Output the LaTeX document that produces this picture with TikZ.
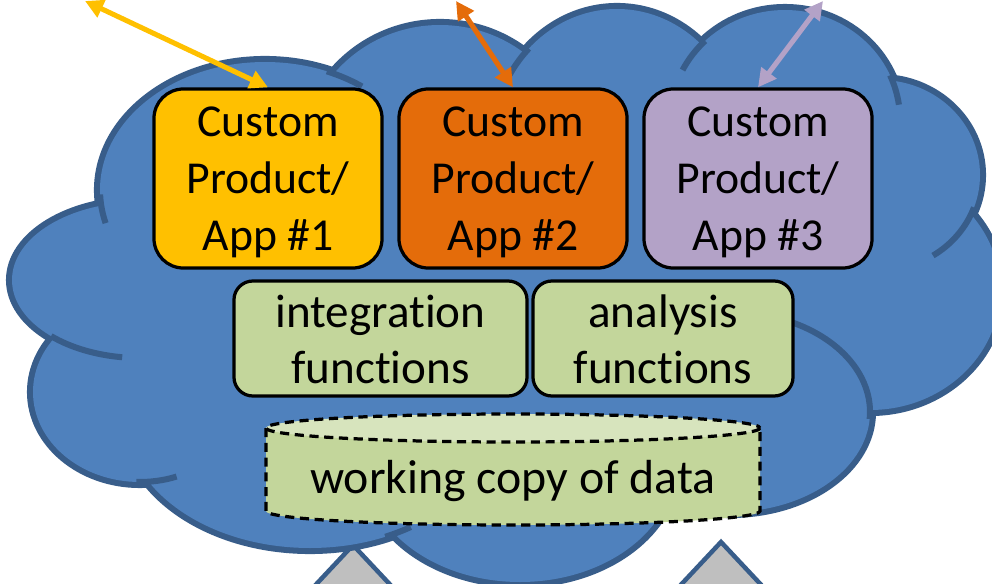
\documentclass[tikz,border=0pt]{standalone}
\usepackage{fontspec}
\setmainfont{Carlito}[Ligatures=NoCommon]
\usetikzlibrary{arrows.meta}
\definecolor{cloudfill}{HTML}{4F81BD}
\definecolor{cloudline}{HTML}{385D8A}
\definecolor{appyellow}{HTML}{FFC000}
\definecolor{apporange}{HTML}{E46C0A}
\definecolor{applilac}{HTML}{B3A2C7}
\definecolor{fngreen}{HTML}{C3D69B}
\definecolor{cyltop}{HTML}{D7E4BD}
\definecolor{basegray}{HTML}{BFBFBF}
\newcommand\lobearc[6]{\draw[lobeedge] ([shift={(#5:#3 and #4)}]#1,#2) arc[start angle=#5,end angle=#6,x radius=#3,y radius=#4];}
\begin{document}
\begin{tikzpicture}[x=0.025cm,y=-0.025cm,
  boxfont/.style={font=\fontsize{32.5}{40.5}\selectfont},
  appbox/.style={draw=black,line width=2.3pt,rounded corners=21pt,
    minimum width=5.7cm,minimum height=4.475cm,align=center,inner sep=0pt,boxfont},
  fnbox/.style={draw=black,line width=2.3pt,rounded corners=13.5pt,fill=fngreen,
    minimum height=2.875cm,align=center,inner sep=0pt,font=\fontsize{33.5}{40}\selectfont},
  lobeedge/.style={draw=cloudline,line width=4.3pt},
  cyledge/.style={draw=black,line width=2.3pt,dash pattern=on 6.5pt off 4pt},
  basetri/.style={fill=basegray,draw=cloudline,line width=3.2pt,line join=miter},
  link/.style={line width=3.6pt,arrows={Triangle[length=13pt,width=13pt]-Triangle[length=13pt,width=13pt]}}]
\useasboundingbox (0,0) rectangle (992,584);
\clip (0,0) rectangle (992,584);

% supports below the cloud
\path[basetri] (353,545) -- (278,625) -- (428,625) -- cycle;
\path[basetri] (721,542) -- (646,622) -- (796,622) -- cycle;

% cloud: outline pass (double width), then fill pass
\foreach \cx/\cy/\rx/\ry in {265/190/165/128, 440/160/138/135, 617/150/127/141,
  785/120/115/110, 880/175/100/95, 870/290/130/120, 730/412/140/100,
  520/465/155/117, 310/418/185/130, 140/392/107/90, 140/280/128/78}
  \path[draw=cloudline,line width=8.6pt] (\cx,\cy) ellipse [x radius=\rx, y radius=\ry];
\foreach \cx/\cy/\rx/\ry in {265/190/165/128, 440/160/138/135, 617/150/127/141,
  785/120/115/110, 880/175/100/95, 870/290/130/120, 730/412/140/100,
  520/465/155/117, 310/418/185/130, 140/392/107/90, 140/280/128/78}
  \path[fill=cloudfill] (\cx,\cy) ellipse [x radius=\rx, y radius=\ry];
\path[fill=cloudfill] (131,212) -- (345,91) -- (525,70) -- (688,63) -- (866,97)
  -- (939,220) -- (845,402) -- (654,486) -- (401,517) -- (171,468) -- (87,335) -- cycle;

% short inner arcs between the puffs
\lobearc{265}{190}{165}{128}{178}{165}
\lobearc{265}{190}{165}{128}{292}{306}
\lobearc{140}{280}{128}{78}{134}{98}
\lobearc{140}{392}{107}{90}{92}{70}
\lobearc{310}{418}{185}{130}{66}{57}
\lobearc{730}{412}{140}{100}{4}{-70}
\lobearc{880}{175}{100}{95}{20}{58}
\lobearc{785}{120}{115}{110}{-24}{-8}
\lobearc{785}{120}{115}{110}{226}{207}
\lobearc{617}{150}{127}{141}{226}{212}

% application boxes
\node[appbox,fill=appyellow] (app1) at (268,178.5) {\rule{0pt}{27pt}Custom\\Product/\\App \#1};
\node[appbox,fill=apporange] (app2) at (513,178.5) {\rule{0pt}{27pt}Custom\\Product/\\App \#2};
\node[appbox,fill=applilac] (app3) at (758,178.5) {\rule{0pt}{27pt}Custom\\Product/\\App \#3};

% function boxes
\node[fnbox,minimum width=7.325cm] (integ) at (380.5,338.5) {\rule{0pt}{24pt}integration\\functions};
\node[fnbox,minimum width=6.5cm] (anal) at (663,338.5) {\rule{0pt}{24pt}analysis\\functions};

% data store
\path[fill=fngreen] (266,428) -- (266,511) arc[start angle=180,end angle=0,x radius=247,y radius=14] -- (760,428) -- cycle;
\draw[cyledge] (266,428) -- (266,511) arc[start angle=180,end angle=0,x radius=247,y radius=14] -- (760,428);
\draw[cyledge,fill=cyltop] (513,428) ellipse [x radius=247, y radius=14];
\node[font=\fontsize{34}{40}\selectfont] (data) at (513,481) {working copy of data};

% links leaving the cloud
\coordinate (out1) at (85,1);
\coordinate (out2) at (456,1);
\coordinate (out3) at (823,1);
\draw[link,appyellow] (app1.north) -- (out1);
\draw[link,apporange] (app2.north) -- (out2);
\draw[link,applilac] (app3.north) -- (out3);
\end{tikzpicture}
\end{document}
